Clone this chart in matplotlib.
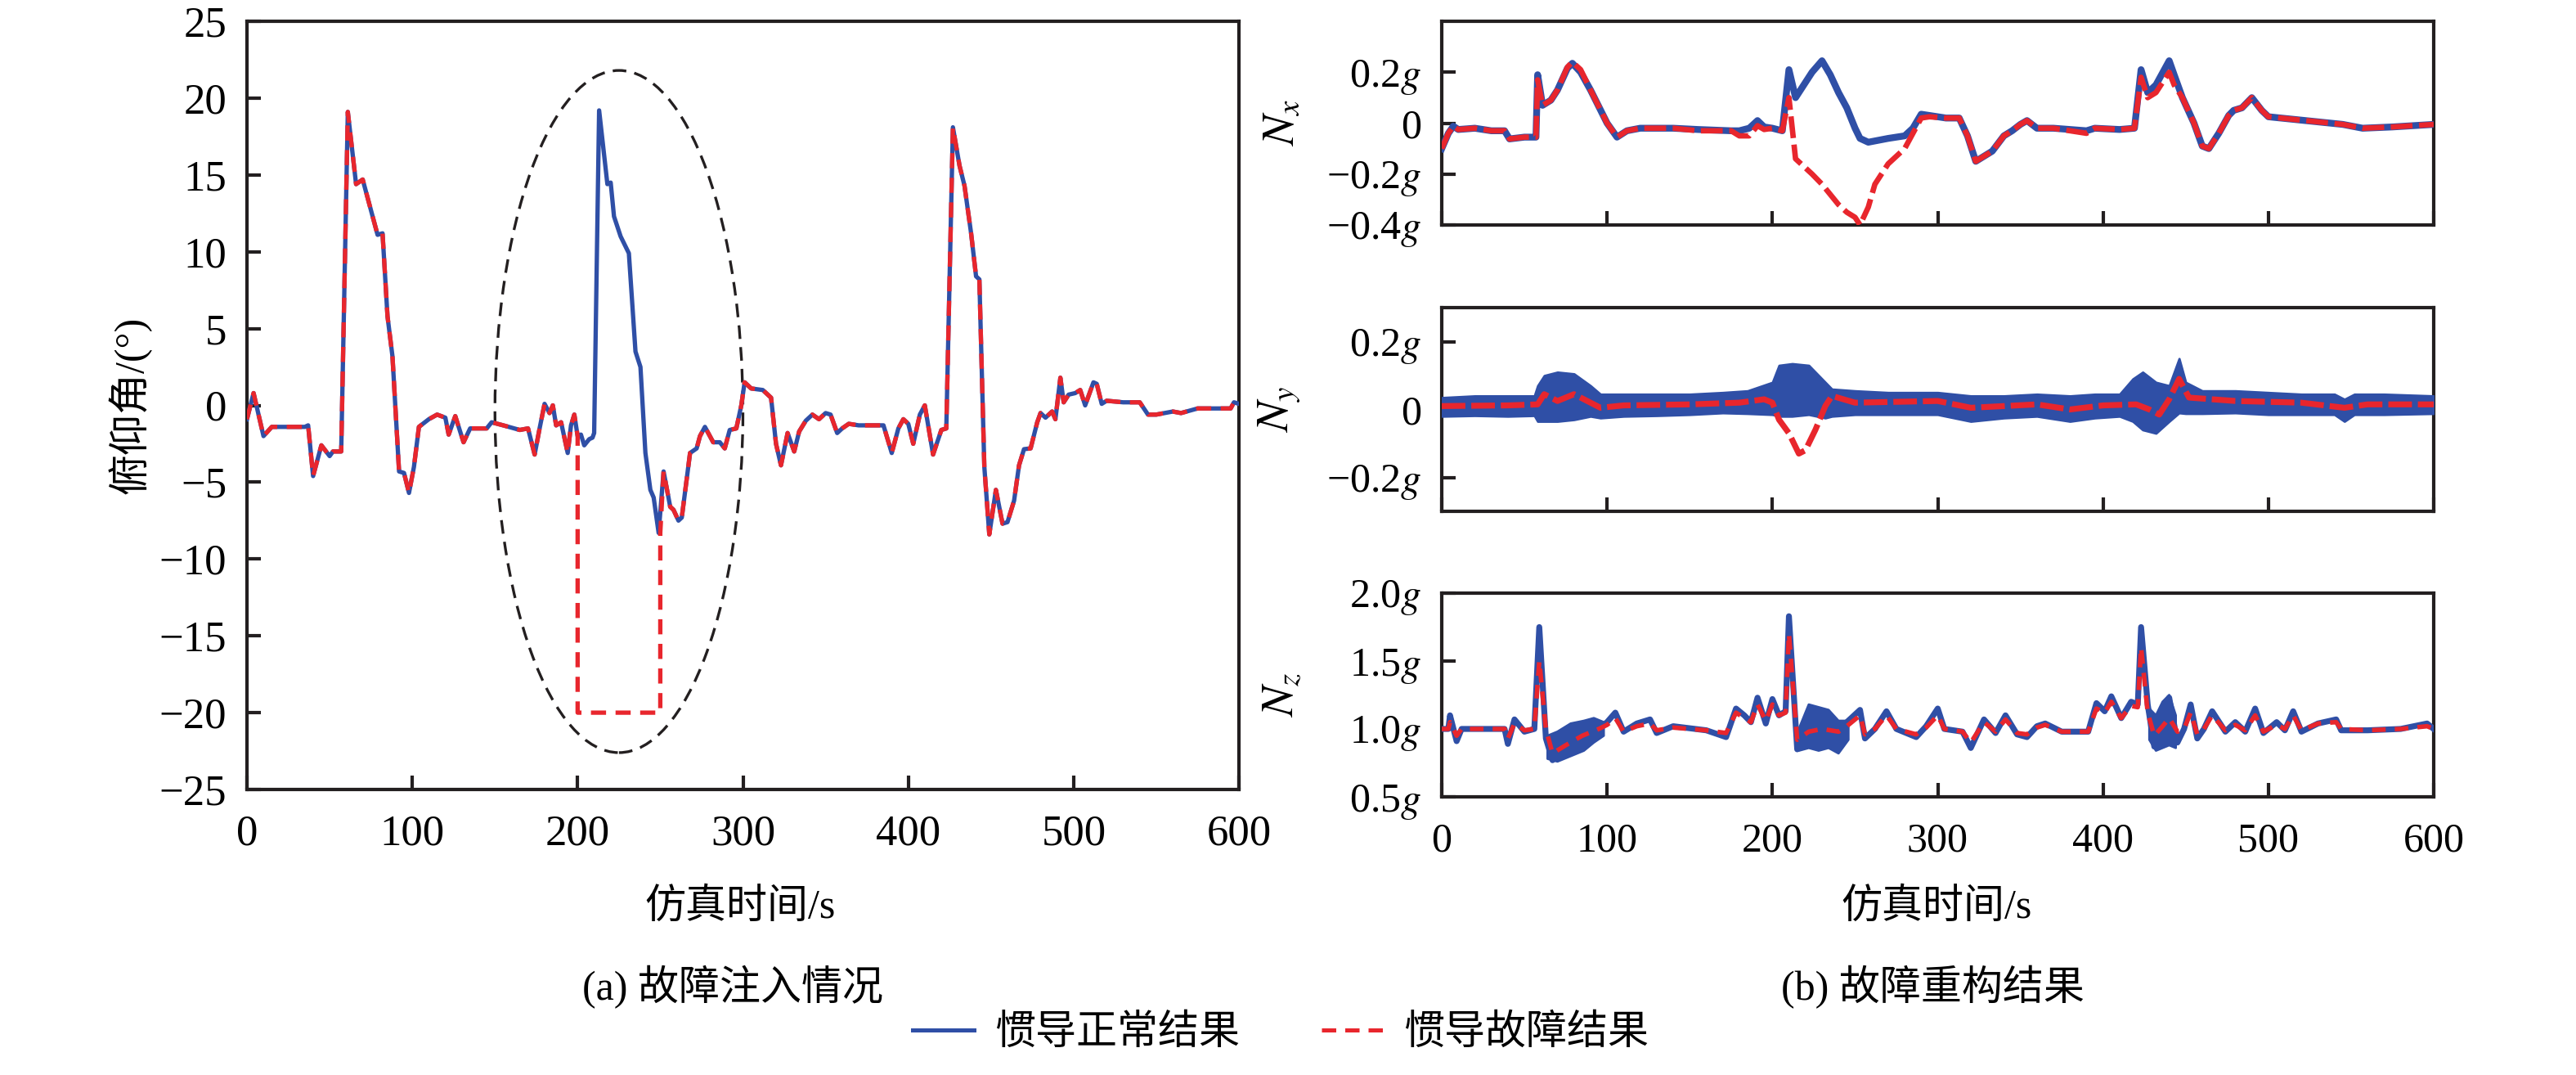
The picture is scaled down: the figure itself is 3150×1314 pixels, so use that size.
import numpy as np
import matplotlib
matplotlib.use("Agg")
import matplotlib.pyplot as plt
from matplotlib.patches import Ellipse
from matplotlib.lines import Line2D

plt.rcParams['font.family'] = ['Liberation Serif', 'Noto Sans CJK SC']
plt.rcParams['mathtext.fontset'] = 'stix'
plt.rcParams['axes.unicode_minus'] = True

BLUE = '#2f4fa6'
RED = '#e8262d'

# ---- (a) pitch angle ----
pitch_t = [0, 4, 10, 15, 35, 37, 40, 45, 50, 52, 57, 61, 66, 70, 79, 82, 85, 88, 92, 95,
           98, 101, 104, 110, 115, 120, 122, 126, 131, 135, 145, 148, 155, 165, 170, 174,
           177, 180, 183, 185, 187, 190, 194, 196, 198, 200, 202, 204, 207, 209, 210, 213,
           218, 220, 222, 226, 231, 235, 238, 241, 244, 246, 249, 252, 256, 258, 261, 263,
           268, 272, 274, 277, 282, 286, 289, 292, 296, 299, 301, 305, 312, 317, 320, 323,
           327, 331, 334, 338, 342, 346, 350, 353, 357, 360, 364, 370, 385, 390, 394, 397,
           400, 403, 407, 410, 415, 420, 423, 427, 431, 434, 438, 441, 443, 446, 449, 453,
           457, 460, 464, 467, 470, 474, 478, 480, 483, 487, 489, 492, 494, 497, 501, 504,
           507, 512, 514, 517, 520, 530, 540, 545, 550, 560, 565, 575, 595, 597, 600]
pitch_normal = [-0.9, 0.8, -2.0, -1.4, -1.4, -1.3, -4.6, -2.6, -3.3, -3.0, -3.0, 19.1, 14.4, 14.7,
                11.1, 11.2, 5.8, 3.2, -4.3, -4.4, -5.7, -4.0, -1.4, -0.9, -0.6, -0.8, -1.9, -0.7,
                -2.4, -1.5, -1.5, -1.1, -1.3, -1.6, -1.5, -3.2, -1.5, 0.1, -0.5, 0.0, -1.3, -1.1,
                -3.1, -1.3, -0.6, -2.0, -1.9, -2.6, -2.2, -2.1, -1.8, 19.2, 14.4, 14.5, 12.3,
                11.0, 9.9, 3.5, 2.5, -3.1, -5.5, -6.0, -8.3, -4.3, -6.6, -6.8, -7.5, -7.3, -3.1,
                -2.8, -2.0, -1.4, -2.4, -2.4, -2.8, -1.6, -1.5, 0.0, 1.5, 1.1, 1.0, 0.5, -2.5,
                -3.9, -1.8, -3.0, -1.7, -1.0, -0.6, -0.9, -0.5, -0.6, -1.8, -1.5, -1.2, -1.3,
                -1.3, -3.1, -1.5, -0.9, -1.2, -2.5, -0.6, 0.0, -3.2, -1.6, -1.5, 18.1, 15.6, 14.3,
                11.2, 8.4, 8.2, -4.0, -8.4, -5.5, -7.7, -7.6, -6.2, -3.9, -2.85, -2.8, -1.1, -0.5,
                -0.8, -0.4, -0.9, 1.8, 0.2, 0.7, 0.8, 1.0, 0.0, 1.5, 1.4, 0.1, 0.3, 0.2, 0.2,
                -0.6, -0.6, -0.4, -0.5, -0.2, -0.2, 0.2, 0.1]
# fault injected: constant -20 deg between 200 s and 250 s
fault_t = [200, 200, 250, 250]
fault_v = [-2.0, -20.0, -20.0, -8.3]

# ---- (b) Nx ----
nx_t = [0, 4, 7, 10, 20, 30, 38, 41, 50, 57, 58, 61, 66, 70, 76, 79, 84, 90, 100, 106, 112,
        120, 140, 155, 175, 180, 186, 191, 195, 200, 206, 210, 214, 224, 230, 235, 240, 245,
        250, 253, 258, 262, 270, 280, 285, 290, 295, 305, 313, 318, 323, 333, 340, 345, 350,
        354, 360, 370, 380, 390, 395, 410, 419, 423, 427, 432, 440, 443, 448, 455, 460, 464,
        470, 476, 479, 484, 490, 496, 500, 515, 530, 545, 557, 575, 600]
nx_normal = [-0.10, -0.04, -0.012, -0.025, -0.02, -0.03, -0.03, -0.062, -0.055, -0.055, 0.19,
             0.07, 0.09, 0.13, 0.215, 0.235, 0.20, 0.13, 0.0, -0.055, -0.03, -0.02, -0.02,
             -0.025, -0.03, -0.03, -0.02, 0.01, -0.015, -0.02, -0.03, 0.21, 0.10, 0.20, 0.245,
             0.19, 0.12, 0.06, -0.02, -0.06, -0.075, -0.07, -0.06, -0.05, -0.02, 0.035, 0.03,
             0.02, 0.02, -0.05, -0.15, -0.11, -0.05, -0.03, -0.005, 0.01, -0.02, -0.02, -0.025,
             -0.03, -0.02, -0.025, -0.02, 0.21, 0.12, 0.15, 0.245, 0.19, 0.10, 0.0, -0.09,
             -0.10, -0.04, 0.03, 0.05, 0.06, 0.10, 0.05, 0.025, 0.015, 0.005, -0.005, -0.02,
             -0.015, -0.005]
nx_fault = [-0.10, -0.04, -0.012, -0.025, -0.02, -0.03, -0.03, -0.062, -0.055, -0.055, 0.17,
            0.07, 0.09, 0.13, 0.22, 0.24, 0.21, 0.13, 0.0, -0.055, -0.03, -0.02, -0.02,
            -0.03, -0.03, -0.05, -0.05, -0.01, -0.025, -0.02, -0.03, 0.10, -0.14, -0.20, -0.24,
            -0.28, -0.32, -0.35, -0.37, -0.40, -0.33, -0.24, -0.16, -0.10, -0.04, 0.02, 0.025,
            0.02, 0.02, -0.05, -0.15, -0.11, -0.05, -0.03, -0.005, 0.01, -0.02, -0.02, -0.03,
            -0.04, -0.02, -0.025, -0.02, 0.18, 0.10, 0.12, 0.20, 0.15, 0.10, 0.0, -0.09,
            -0.10, -0.04, 0.03, 0.05, 0.06, 0.10, 0.05, 0.025, 0.015, 0.005, -0.005, -0.02,
            -0.015, -0.005]

# ---- (b) Ny : normal result is a noisy band ----
ny_band_t = [0, 20, 40, 56, 58, 62, 70, 80, 90, 96, 110, 130, 150, 170, 185, 200, 204, 212,
             222, 232, 236, 250, 270, 300, 320, 340, 360, 380, 395, 410, 418, 424, 432, 440,
             446, 450, 460, 480, 500, 520, 540, 546, 552, 570, 600]
ny_band_hi = [0.035, 0.04, 0.04, 0.04, 0.07, 0.10, 0.11, 0.105, 0.07, 0.045, 0.045, 0.045, 0.045,
              0.05, 0.055, 0.08, 0.13, 0.135, 0.13, 0.08, 0.06, 0.055, 0.05, 0.05, 0.04,
              0.04, 0.045, 0.04, 0.045, 0.045, 0.09, 0.11, 0.08, 0.07, 0.15, 0.08, 0.055, 0.055,
              0.05, 0.045, 0.045, 0.03, 0.045, 0.045, 0.04]
ny_band_lo = [-0.02, -0.018, -0.02, -0.018, -0.035, -0.035, -0.035, -0.03, -0.02, -0.025,
              -0.02, -0.018, -0.015, -0.01, -0.012, -0.015, -0.02, -0.02, -0.015, -0.025,
              -0.02, -0.015, -0.015, -0.015, -0.035, -0.025, -0.02, -0.035, -0.025, -0.02,
              -0.035, -0.06, -0.07, -0.035, -0.01, -0.012, -0.012, -0.01, -0.015, -0.015,
              -0.015, -0.035, -0.015, -0.015, -0.012]
ny_fault_t = [0, 40, 58, 62, 70, 80, 90, 96, 110, 150, 180, 195, 200, 204, 210, 216, 220, 226,
              232, 236, 250, 300, 320, 360, 380, 400, 420, 428, 434, 440, 446, 452, 480, 520,
              546, 560, 600]
ny_fault = [0.01, 0.012, 0.015, 0.045, 0.025, 0.045, 0.02, 0.005, 0.012, 0.015, 0.02, 0.03, 0.02,
            -0.03, -0.07, -0.13, -0.12, -0.06, 0.01, 0.04, 0.02, 0.025, 0.005, 0.015, 0.0, 0.012,
            0.015, 0.0, -0.015, 0.03, 0.09, 0.035, 0.025, 0.02, 0.005, 0.015, 0.015]

# ---- (b) Nz ----
nz_t = [0, 4, 5, 9, 12, 38, 40, 44, 50, 56, 59, 63, 67, 75, 85, 95, 100, 105, 110, 118, 126,
        130, 140, 160, 172, 178, 183, 187, 191, 196, 200, 204, 208, 210, 215, 222, 230, 240,
        245, 253, 256, 262, 269, 275, 287, 293, 300, 304, 315, 320, 328, 335, 341, 348, 354,
        360, 365, 375, 391, 396, 401, 405, 411, 417, 421, 423, 427, 431, 436, 440, 445, 449,
        453, 457, 461, 466, 474, 480, 486, 492, 497, 505, 510, 515, 520, 530, 541, 544, 560,
        580, 596, 600]
nz_normal = [1.0, 1.0, 1.10, 0.91, 1.0, 1.0, 0.89, 1.07, 0.98, 1.0, 1.75, 0.93, 0.77, 0.85,
             0.92, 1.0, 1.05, 1.12, 0.98, 1.04, 1.07, 0.97, 1.02, 0.99, 0.94, 1.15, 1.10, 1.05,
             1.23, 1.04, 1.22, 1.10, 1.13, 1.83, 0.85, 0.95, 1.0, 0.95, 1.05, 1.14, 0.93, 1.0,
             1.13, 1.0, 0.94, 1.02, 1.15, 1.0, 0.98, 0.86, 1.07, 0.97, 1.10, 0.96, 0.94, 1.02,
             1.04, 0.98, 0.98, 1.19, 1.13, 1.24, 1.08, 1.20, 1.18, 1.75, 1.18, 0.87, 1.0, 1.23,
             0.90, 1.0, 1.18, 0.93, 1.0, 1.13, 0.98, 1.05, 0.98, 1.15, 0.97, 1.05, 0.99, 1.13,
             0.98, 1.04, 1.07, 0.99, 0.99, 1.0, 1.04, 1.0]
nz_fault = [1.0, 1.0, 1.05, 0.95, 1.0, 1.0, 0.93, 1.04, 0.99, 1.0, 1.50, 1.0, 0.82, 0.88,
            0.95, 1.0, 1.03, 1.08, 0.98, 1.02, 1.04, 0.99, 1.01, 0.99, 0.97, 1.12, 1.08, 1.05,
            1.18, 1.06, 1.18, 1.10, 1.12, 1.70, 0.92, 0.98, 1.0, 0.98, 1.02, 1.10, 0.96, 1.0,
            1.10, 1.0, 0.96, 1.01, 1.10, 1.0, 0.98, 0.90, 1.05, 0.98, 1.07, 0.97, 0.96, 1.01,
            1.03, 0.98, 0.98, 1.15, 1.12, 1.20, 1.08, 1.17, 1.16, 1.60, 1.12, 0.95, 1.02, 1.08,
            0.98, 1.0, 1.12, 0.96, 1.0, 1.10, 0.99, 1.03, 0.99, 1.10, 0.98, 1.03, 1.0, 1.10,
            0.99, 1.04, 1.05, 1.0, 0.99, 1.0, 1.02, 1.0]
# wide noise bands of the normal Nz result (nan separates segments)
nz_band_t = [64, 70, 78, 86, 92, 98, np.nan, 216, 222, 228, 234, 240, 246, np.nan,
             428, 432, 436, 440, 444]
nz_band_lo = [0.78, 0.76, 0.80, 0.84, 0.90, 0.95, np.nan, 0.84, 0.86, 0.84, 0.86, 0.82, 0.92,
              np.nan, 0.92, 0.84, 0.86, 0.88, 0.86]
nz_band_hi = [0.95, 0.98, 1.04, 1.06, 1.08, 1.05, np.nan, 1.00, 1.18, 1.16, 1.14, 1.06, 1.06,
              np.nan, 1.15, 1.10, 1.20, 1.25, 1.10]

x_ticks = [0, 100, 200, 300, 400, 500, 600]
pitch_ticks = [-25, -20, -15, -10, -5, 0, 5, 10, 15, 20, 25]
nx_ticks = [-0.4, -0.2, 0, 0.2]
nx_labels = ['\u22120.4$g$', '\u22120.2$g$', '0', '0.2$g$']
ny_ticks = [-0.2, 0, 0.2]
ny_labels = ['\u22120.2$g$', '0', '0.2$g$']
nz_ticks = [0.5, 1.0, 1.5, 2.0]
nz_labels = ['0.5$g$', '1.0$g$', '1.5$g$', '2.0$g$']

W, H = 3150, 1314
fig = plt.figure(figsize=(W / 200, H / 200), dpi=200)


def box(x0, y0, x1, y1):
    return [x0 / W, 1 - y1 / H, (x1 - x0) / W, (y1 - y0) / H]


def style(ax, fs):
    for s in ax.spines.values():
        s.set_linewidth(1.5)
        s.set_color('#231f20')
    ax.tick_params(direction='in', length=6, width=1.5, color='#231f20',
                   labelsize=fs, pad=9)
    ax.tick_params(axis='x', pad=11)


dash = (3.5, 2.2)

# left panel
axa = fig.add_axes(box(302, 26, 1515, 965))
axa.plot(pitch_t, pitch_normal, color=BLUE, lw=1.9, zorder=3, solid_joinstyle='round')
t_arr = np.array(pitch_t)
v_arr = np.array(pitch_normal)
pre = t_arr < 200
post = t_arr >= 250
red_t = np.concatenate([t_arr[pre], fault_t, t_arr[post]])
red_v = np.concatenate([v_arr[pre], fault_v, v_arr[post]])
axa.plot(red_t, red_v, color=RED, lw=1.9, dashes=dash, zorder=4)
axa.add_patch(Ellipse((225, -0.4), 150, 44.4, fill=False, ls=(0, (5, 3)),
                      lw=1.2, color='#231f20', zorder=2))
axa.set_xlim(0, 600)
axa.set_ylim(-25, 25)
axa.set_xticks(x_ticks)
axa.set_yticks(pitch_ticks)
style(axa, 19)
axa.set_ylabel('俯仰角/(°)', fontsize=18)
axa.yaxis.set_label_coords(-0.096, 0.5)

# right panels
axx = fig.add_axes(box(1763, 26, 2976, 275))
axy = fig.add_axes(box(1763, 376, 2976, 625))
axz = fig.add_axes(box(1763, 725, 2976, 974))

axx.plot(nx_t, nx_normal, color=BLUE, lw=3.0, zorder=3, solid_joinstyle='round')
axx.plot(nx_t, nx_fault, color=RED, lw=2.4, dashes=(4, 1.2), zorder=4)
axx.set_ylim(-0.4, 0.4)
axx.set_yticks(nx_ticks)
axx.set_yticklabels(nx_labels)
axx.set_ylabel('$N_x$', fontsize=20)

axy.fill_between(ny_band_t, ny_band_lo, ny_band_hi, color=BLUE, lw=1.0,
                 edgecolor=BLUE, zorder=3)
axy.plot(ny_fault_t, ny_fault, color=RED, lw=2.6, dashes=(4, 1.0), zorder=4)
axy.set_ylim(-0.3, 0.3)
axy.set_yticks(ny_ticks)
axy.set_yticklabels(ny_labels)
axy.set_ylabel('$N_y$', fontsize=20)

axz.fill_between(nz_band_t, nz_band_lo, nz_band_hi, color=BLUE, lw=1.0,
                 edgecolor=BLUE, zorder=3)
axz.plot(nz_t, nz_normal, color=BLUE, lw=2.6, zorder=3, solid_joinstyle='round')
axz.plot(nz_t, nz_fault, color=RED, lw=2.0, dashes=(3, 2), zorder=4)
axz.set_ylim(0.5, 2.0)
axz.set_yticks(nz_ticks)
axz.set_yticklabels(nz_labels)
axz.set_ylabel('$N_z$', fontsize=20)

for ax in (axx, axy, axz):
    ax.set_xlim(0, 600)
    ax.set_xticks(x_ticks)
    style(ax, 18)
    ax.yaxis.set_label_coords(-0.140, 0.5)
for ax in (axx, axy):
    ax.tick_params(axis='x', labelbottom=False)

# texts
fig.text(905 / W, 1 - 1110 / H, '仿真时间/s', fontsize=18, ha='center', va='center')
fig.text(2368 / W, 1 - 1110 / H, '仿真时间/s', fontsize=18, ha='center', va='center')
fig.text(896 / W, 1 - 1207 / H, '(a) 故障注入情况', fontsize=18, ha='center', va='center')
fig.text(2363 / W, 1 - 1207 / H, '(b) 故障重构结果', fontsize=18, ha='center', va='center')

handles = [Line2D([], [], color=BLUE, lw=1.8),
           Line2D([], [], color=RED, lw=1.8, dashes=dash)]
fig.legend(handles, ['惯导正常结果', '惯导故障结果'], loc='center',
           bbox_to_anchor=(1566 / W, 1 - 1264 / H), ncol=2, frameon=False,
           fontsize=18, handlelength=1.5, handletextpad=0.5, columnspacing=2.0)

fig.savefig('out.png', dpi=200)
